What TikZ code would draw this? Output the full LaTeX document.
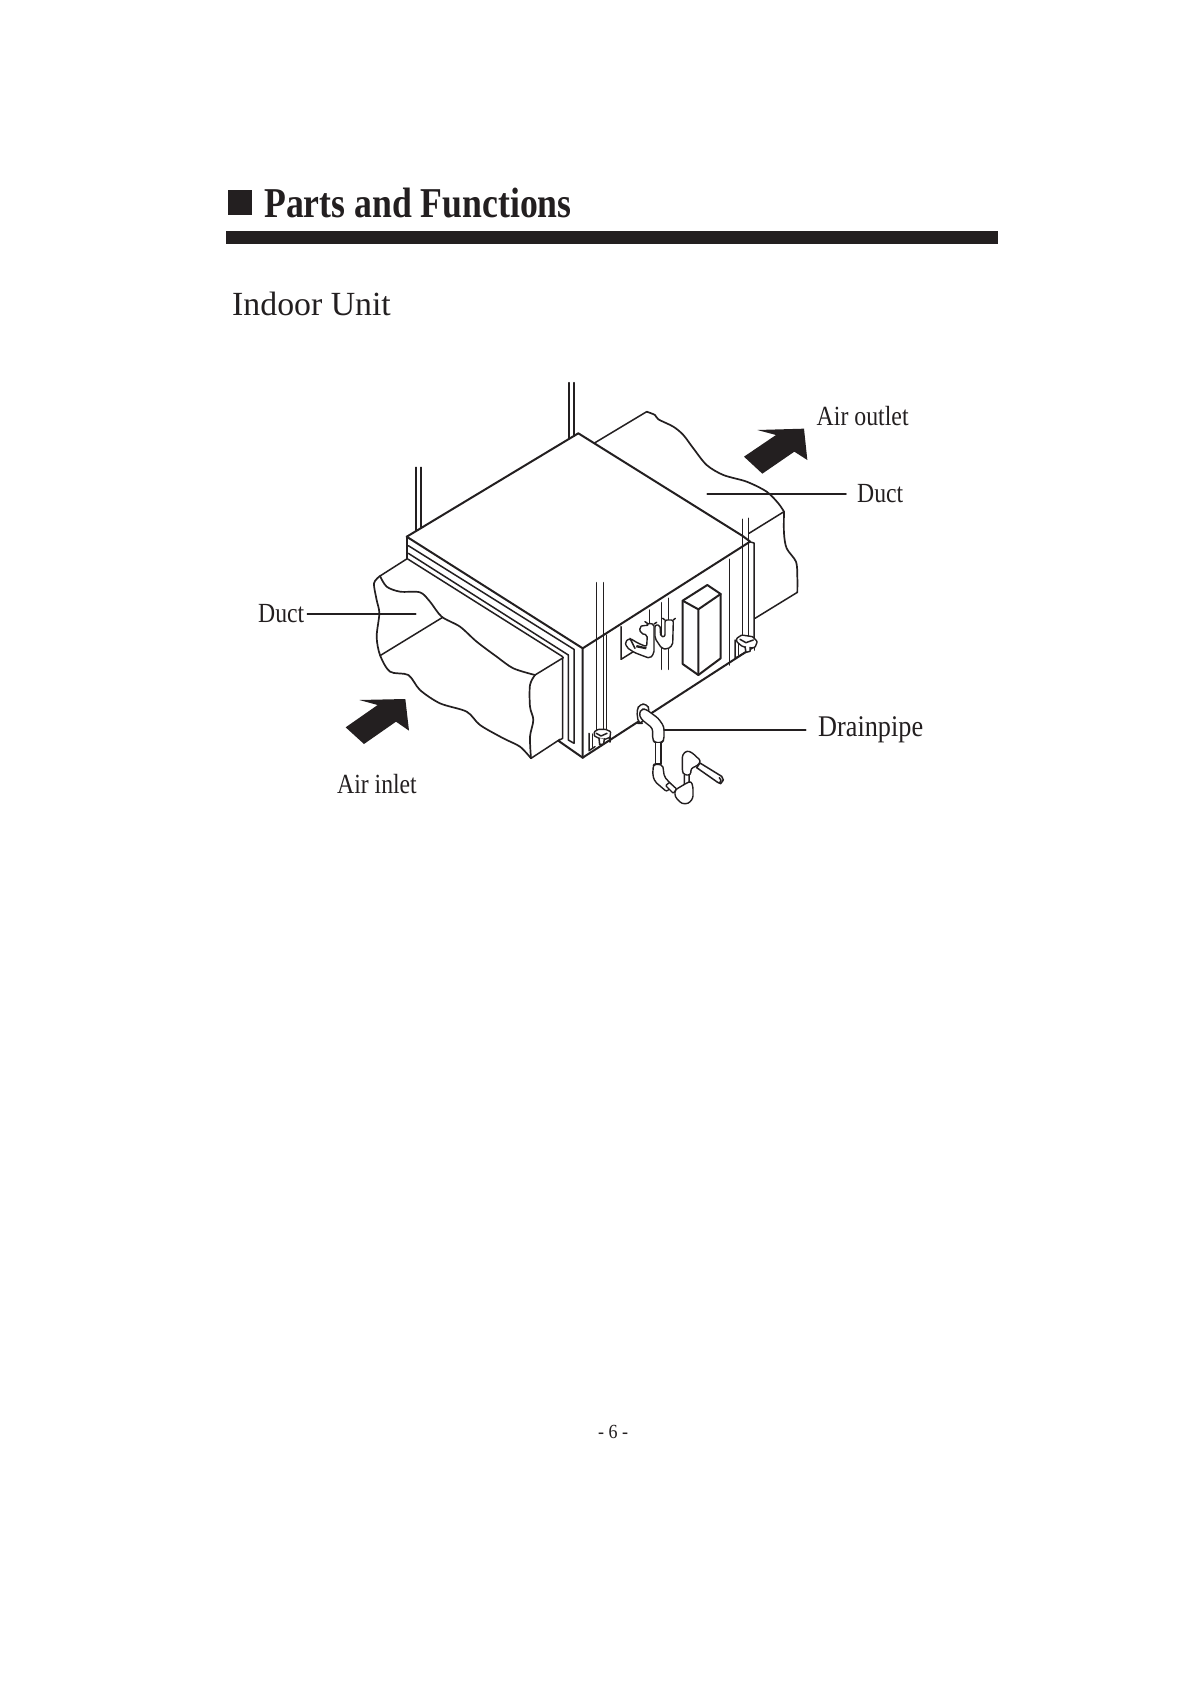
\documentclass[tikz,border=0pt]{standalone}
\usepackage{graphicx}
\usepackage{fontspec}
\setmainfont{Liberation Serif}
\definecolor{ink}{HTML}{231F20}
\newcommand{\sz}[1]{\fontsize{#1}{#1}\selectfont}
\begin{document}
\begin{tikzpicture}[x=1pt,y=-1pt,line join=round,line cap=round,
  z1/.style={shift={(220,360)},x=.33333pt,y=-.33333pt},
  z2/.style={shift={(560,360)},x=.33333pt,y=-.33333pt},
  z5/.style={shift={(610,590)},x=.33333pt,y=-.33333pt},
  z6/.style={shift={(625,695)},x=.33333pt,y=-.33333pt},
  z7/.style={shift={(575,710)},x=.33333pt,y=-.33333pt},
  z8/.style={shift={(720,620)},x=.33333pt,y=-.33333pt},
  edge/.style={draw=ink,line width=2pt},
  thin line/.style={draw=ink,line width=1.5pt},
  wave/.style={draw=ink,line width=1.7pt},
  fitting/.style={draw=ink,line width=1.4pt,fill=white,rounded corners=2pt},
  leader/.style={draw=ink,line width=1.8pt},
  lab/.style={anchor=base west,inner sep=0pt,text=ink,font=\sz{27.7}},
  bigarrow/.style={fill=ink,draw=none}]
\useasboundingbox (0,0) rectangle (1191,1684);
\fill[white] (0,0) rectangle (1191,1684);

% heading
\fill[ink] (228,190) rectangle (252.3,215);
\fill[ink] (226,231) rectangle (997.5,244);
\node[lab,font=\sz{42.5}\bfseries] (title) at (264,217) {\scalebox{.84}[1]{Parts and Functions}};
\node[lab,font=\sz{33.8}] (sub) at (232,315) {Indoor Unit};

% far duct
\begin{scope}[z2]
  \draw[thin line] (105,248) -- (260,155);
  \draw[wave] plot[smooth,tension=.5] coordinates {(260,155)(285,165)(295,178)(340,200)(370,225)(400,265)(440,315)(490,345)(560,365)(620,395)(655,430)(672,455)};
  \draw[wave] plot[smooth,tension=.5] coordinates {(672,455)(672,520)(680,565)(708,605)(712,650)(712,697)};
  \draw[thin line] (712,697) -- (585,775);
  \draw[thin line] (672,455) -- (567,520);
\end{scope}

% near duct
\begin{scope}[z1]
  \draw[thin line] (560,597) -- (480,648);
  \draw[wave] plot[smooth,tension=.5] coordinates {(480,648)(500,680)(540,695)(600,697)(630,725)(665,770)(720,800)(770,845)(830,890)(880,925)(945,945)};
  \draw[wave] plot[smooth,tension=.5] coordinates {(480,648)(462,670)(470,720)(478,760)(470,830)(480,885)(510,935)(565,945)(600,990)(660,1030)(740,1055)(780,1095)(850,1135)(900,1160)(933,1195)};
  \draw[thin line] (668,772) -- (480,887);
  \draw[wave] plot[smooth,tension=.5] coordinates {(945,945)(930,975)(930,1040)(940,1080)(930,1130)(933,1195)};
  \draw[thin line] (945,945) -- (1030,893);
  \draw[thin line] (933,1195) -- (1020,1138);
  % arrow
  \fill[bigarrow] (418,1020) -- (556,1017) -- (567,1112) -- (528,1085) -- (432,1152) -- (377,1102) -- (473,1035) -- cycle;
  % hanging rods behind
  \draw[thin line] (1047,68) -- (1047,235) (1062,68) -- (1062,228);
  \draw[thin line] (588,322) -- (588,512) (603,322) -- (603,502);
  % flange
  \draw[thin line] (565,557) -- (1062,868);
  \draw[thin line] (565,580) -- (1045,885);
  \draw[thin line] (560,595) -- (1028,890);
  \draw[edge] (560,530) -- (560,595);
\end{scope}
\draw[thin line] (574,649.3) -- (574,743.3) -- (568.3,740) -- (568.3,655);
\draw[thin line] (562.7,656.7) -- (562.7,738.3) -- (558.3,740.7);
\draw[edge] (558.3,740.7) -- (582.7,757.7);

% body
\coordinate (cL) at (406.7,536.7);
\coordinate (cT) at (578.3,433.3);
\coordinate (cR) at (742.7,536);
\coordinate (cF) at (582.7,648.3);
\coordinate (cB) at (582.7,757.7);
\draw[edge] (cL) -- (cT) -- (cR) -- (750,541.5);
\draw[edge] (cL) -- (cF) -- (cB);
\begin{scope}[z2]
  \draw[edge] (68,865) -- (570,545);
  \draw[edge] (68,1193) -- (582,860);
  \draw[thin line] (568,545) -- (582,549) -- (582,860);
  % side panel lines
  \draw[thin line] (140,825) -- (140,1108);
  \draw[thin line] (508,598) -- (508,915);
  % rods
  \draw[thin line] (110,668) -- (110,1112) (130,668) -- (130,1112);
  \draw[thin line] (548,478) -- (548,830) (566,475) -- (566,838);
  % control box
  \draw[edge,fill=white] (368,722) -- (442,675) -- (482,702) -- (482,895) -- (415,945) -- (368,912) -- cycle;
  \draw[edge] (368,722) -- (415,748) -- (482,702) (415,748) -- (415,945);
\end{scope}

% pipe stack and opening
\begin{scope}[z5]
  \draw[thin line] (33,110) -- (33,208) -- (70,185);
  \draw[thin line] (118,60) -- (118,105);
  \draw[thin line] (155,38) -- (155,238) (175,25) -- (175,238);
  \draw[fitting] (135,105) -- (135,145) -- (155,175) -- (172,178) -- (188,165) -- (190,90) -- (165,90) -- (165,140) -- (152,140) -- (150,105) -- cycle;
  \draw[thin line] (165,90) -- (158,85) (190,90) -- (196,85);
  \draw[fitting] (88,112) -- (100,105) -- (113,108) -- (112,100) -- (132,102) -- (132,190) -- (120,205) -- (100,198) -- (72,187) -- (50,172) -- (45,155) -- (60,145) -- (85,160) -- (110,170) -- (112,135) -- (92,130) -- cycle;
  \draw[thin line] (112,100) -- (105,95) (132,102) -- (140,97);
  \fill[ink] (80,165) -- (110,172) -- (108,178) -- (78,172) -- cycle;
  \draw[thin line] (60,145) -- (75,175);
\end{scope}

% brackets
\begin{scope}[z7]
  \draw[thin line] (42,70) -- (42,122) -- (60,110);
  \draw[thin line] (52,72) -- (52,112);
  \draw[fitting,rounded corners=.8pt] (58,65) -- (70,58) -- (92,58) -- (107,65) -- (105,82) -- (90,88) -- (72,85) -- (58,78) -- cycle;
  \draw[thin line] (64,70) -- (78,78) -- (96,70);
  \draw[thin line,fill=white] (72,85) -- (74,104) -- (86,102) -- (88,86);
  \draw[thin line] (105,82) -- (105,96);
\end{scope}
\begin{scope}[z8]
  \draw[thin line] (45,60) -- (45,115) -- (80,95);
  \draw[thin line] (55,70) -- (55,105);
  \draw[fitting,rounded corners=.8pt] (50,55) -- (65,45) -- (98,50) -- (112,65) -- (105,82) -- (85,85) -- (65,78) -- (50,65) -- cycle;
  \draw[thin line] (60,58) -- (78,68) -- (100,60);
  \draw[thin line,fill=white] (75,80) -- (78,97) -- (90,94) -- (90,82);
  \draw[thin line] (104,82) -- (104,90);
\end{scope}

% drain pipe
\begin{scope}[z6]
  \draw[fitting,rounded corners=4pt] (40,85) -- (35,45) -- (45,27) -- (65,27) -- (75,45) -- (50,85) -- cycle;
  \draw[fitting,rounded corners=3pt] (62,42) -- (100,70) -- (117,95) -- (117,135) -- (110,143) -- (90,143) -- (83,135) -- (83,100) -- (48,72) -- (42,55) -- (50,42) -- cycle;
  \draw[thin line,fill=white] (92,143) -- (92,207) -- (108,207) -- (108,143);
  \draw[fitting] (85,212) -- (83,240) -- (90,260) -- (125,290) -- (142,272) -- (118,245) -- (113,210) -- (88,207) -- cycle;
  \draw[fitting,rounded corners=1pt] (122,272) -- (133,262) -- (155,282) -- (145,295) -- cycle;
  \draw[thin line,fill=white] (178,240) -- (178,268) -- (192,264) -- (192,240);
  \draw[fitting,rounded corners=2.5pt] (150,285) -- (175,270) -- (178,268) -- (198,258) -- (204,275) -- (204,310) -- (190,326) -- (170,326) -- (150,305) -- cycle;
  \draw[thin line,fill=white] (225,204) -- (290,244) -- (295,255) -- (287,266) -- (278,262) -- (215,218) -- cycle;
  \draw[thin line] (283,248) -- (288,256) -- (284,264);
  \draw[fitting,rounded corners=2.5pt] (172,180) -- (185,167) -- (200,172) -- (228,198) -- (217,212) -- (198,220) -- (197,240) -- (178,240) -- (172,230) -- cycle;
\end{scope}

% big arrow, labels and leaders
\begin{scope}[z2]
  \fill[bigarrow] (592,210) -- (732,206) -- (742,300) -- (703,275) -- (607,341) -- (552,290) -- (648,225) -- cycle;
\end{scope}
\node[lab] (outlet) at (816.5,425) {\scalebox{.86}[1]{Air outlet}};
\node[lab] (ductR) at (857,502) {\scalebox{.855}[1]{Duct}};
\node[lab] (ductL) at (258,622.7) {\scalebox{.855}[1]{Duct}};
\node[lab] (inlet) at (337,793) {\scalebox{.855}[1]{Air inlet}};
\node[lab,font=\sz{30}] (drain) at (818,736) {\scalebox{.875}[1]{Drainpipe}};
\node[lab,font=\sz{20}] (page) at (598,1438) {\scalebox{.9}[1]{- 6 -}};

\coordinate (ductLend) at (415.7,614);
\coordinate (ductRend) at (707.3,493.7);
\coordinate (drainend) at (664,729.7);
\draw[leader] (ductLend) -- ([xshift=3pt]ductL.east |- ductLend);
\draw[leader] (ductRend) -- (846,493.7);
\draw[leader] (drainend) -- (805.7,729.7);
\end{tikzpicture}
\end{document}
